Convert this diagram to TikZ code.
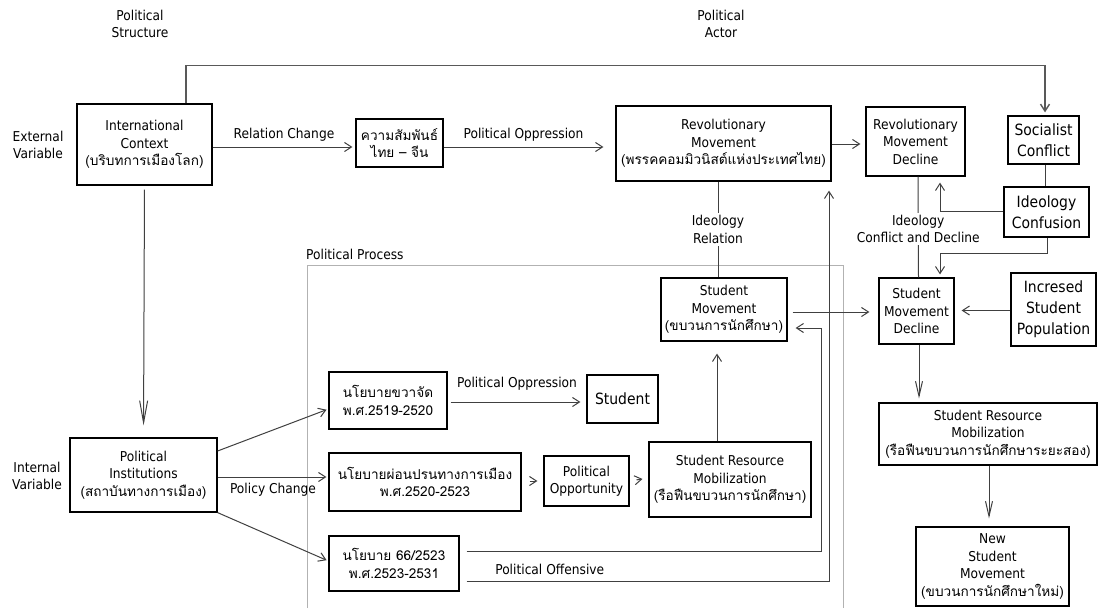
\documentclass[tikz,border=0pt]{standalone}
\usepackage{fontspec}
\setmainfont{DejaVu Sans}[FakeStretch=0.9]
\newfontfamily\thai[Script=Thai]{Loma}
\usetikzlibrary{arrows.meta}

\begin{document}
\begin{tikzpicture}[x=1pt,y=-1pt,>={Straight Barb[length=7pt,width=9pt]},
    box/.style={draw=black,line width=1.2pt,inner sep=0pt,align=center,font=\fontsize{13.6}{17.5}\selectfont},
    big/.style={font=\fontsize{15.5}{21}\selectfont},
    lbl/.style={align=center,inner sep=2pt,font=\fontsize{13.6}{17.5}\selectfont},
    link/.style={draw=black!75,line width=1pt},
    longtip/.style={>={Straight Barb[length=15pt,width=7pt]}}]

    \fill[white] (0,0) rectangle (1098,608);
    \useasboundingbox (0,0) rectangle (1098,608);

    % headings
    \node[lbl] (pstr) at (140,24) {Political\\Structure};
    \node[lbl] (pact) at (721,24) {Political\\Actor};
    \node[lbl] (ext) at (38,145) {External\\Variable};
    \node[lbl] (int) at (37,476) {Internal\\Variable};
    \node[lbl,anchor=west,inner sep=0pt] (pproc) at (306,254) {Political Process};
    \draw[black!30,line width=0.8pt] (307,608) |- (843,265) -- (843,608);

    % external level
    \node[box,minimum width=135pt,minimum height=81pt] (ic) at (144.5,144.5) {International\\Context\\{\thai(บริบทการเมืองโลก)}};
    \node[box,minimum width=87pt,minimum height=48pt] (thcn) at (399.5,143) {{\thai ความสัมพันธ์}\\{\thai ไทย – จีน}};
    \node[box,minimum width=215pt,minimum height=75pt] (rm) at (723.5,143.5) {Revolutionary\\Movement\\{\thai(พรรคคอมมิวนิสต์แห่งประเทศไทย)}};
    \node[box,minimum width=99pt,minimum height=69pt] (rmd) at (915.5,141.5) {Revolutionary\\Movement\\Decline};
    \node[box,big,minimum width=71pt,minimum height=48pt] (sc) at (1043.5,140) {Socialist\\Conflict};
    \node[box,big,minimum width=85pt,minimum height=50pt] (idc) at (1046.5,212) {Ideology\\Confusion};

    % student level
    \node[box,minimum width=126pt,minimum height=63pt] (sm) at (724,309.5) {Student\\Movement\\{\thai(ขบวนการนักศึกษา)}};
    \node[box,minimum width=75pt,minimum height=66pt] (smd) at (916.5,311) {Student\\Movement\\Decline};
    \node[box,big,minimum width=85pt,minimum height=73pt] (isp) at (1053.5,309.5) {Incresed\\Student\\Population};
    \node[box,minimum width=218pt,minimum height=62pt] (srm2) at (988,434) {Student Resource\\Mobilization\\{\thai(รือฟืนขบวนการนักศึกษาระยะสอง)}};
    \node[box,minimum width=153pt,minimum height=79pt] (nsm) at (992.5,566.5) {New\\Student\\Movement\\{\thai(ขบวนการนักศึกษาใหม่)}};

    % internal level
    \node[box,minimum width=147pt,minimum height=74pt] (pi) at (143.5,475) {Political\\Institutions\\{\thai(สถาบันทางการเมือง)}};
    \node[box,minimum width=118pt,minimum height=57pt] (nk) at (388,400.5) {{\thai นโยบายขวาจัด}\\{\thai พ.ศ.2519-2520}};
    \node[box,minimum width=192pt,minimum height=58pt] (np) at (425,482) {{\thai นโยบายผ่อนปรนทางการเมือง}\\{\thai พ.ศ.2520-2523}};
    \node[box,minimum width=130pt,minimum height=55pt] (n66) at (394,563.5) {{\thai นโยบาย 66/2523}\\{\thai พ.ศ.2523-2531}};
    \node[box,big,minimum width=71pt,minimum height=48pt] (st) at (622.5,399) {Student};
    \node[box,minimum width=85pt,minimum height=50pt] (po) at (586.5,481) {Political\\Opportunity};
    \node[box,minimum width=162pt,minimum height=75pt] (srm) at (730,479.5) {Student Resource\\Mobilization\\{\thai(รือฟืนขบวนการนักศึกษา)}};

    % connectors, top half
    \draw[link,draw=black!65,line width=1.4pt,->,shorten >=3pt] ([xshift=41.5pt]ic.north) -- ++(0,-38) -| ([xshift=1.5pt]sc.north);
    \draw[link,->,shorten >=3pt] ([yshift=-2.5pt]ic.east) -- node[lbl,above,yshift=3pt]{Relation Change} ([yshift=-4pt]thcn.west);
    \draw[link,->,shorten >=12pt] ([yshift=-4pt]thcn.east) -- node[lbl,above,xshift=-6pt,yshift=3pt]{Political Oppression} ([yshift=-3.5pt]rm.west);
    \draw[link,->,shorten >=5pt] ([yshift=-0.5pt]rm.east) -- ([yshift=-2.5pt]rmd.west);
    \draw[link] ([xshift=-5.5pt]rm.south) -- node[lbl,fill=white]{Ideology\\Relation} ([xshift=-6pt]sm.north);
    \draw[link] ([xshift=2.5pt]rmd.south) -- node[lbl,fill=white,yshift=-2pt]{Ideology\\Conflict and Decline} ([xshift=2pt]smd.north);
    \draw[link] ([xshift=1.5pt]sc.south) -- ([xshift=1.5pt]sc.south |- idc.north);
    \draw[link,->,shorten >=6pt] ([yshift=1pt]idc.west) -| ([xshift=24.5pt]rmd.south);
    \draw[link,->,shorten >=3pt] ([xshift=0.5pt]idc.south) -- ++(0,16) -| ([xshift=23.5pt]smd.north);
    \draw[link,->,shorten <=5pt,shorten >=9pt] ([yshift=-2.5pt]sm.east) -- ([yshift=-1pt]smd.west);
    \draw[link,->,shorten >=7pt] ([yshift=-1pt]isp.west) -- ([yshift=-1pt]isp.west -| smd.east);
    \draw[link,->,longtip,shorten >=4pt] ([xshift=2.5pt]smd.south) -- ([xshift=2.5pt]smd.south |- srm2.north);
    \draw[link,->,longtip,shorten >=8pt] ([xshift=1pt]srm2.south) -- ([xshift=1pt]srm2.south |- nsm.north);

    % connectors, bottom half
    \draw[link,->,>={Straight Barb[length=22pt,width=8pt]},shorten <=4pt,shorten >=12pt] (ic.south) -- (pi.north);
    \draw[link,->,shorten >=2pt] ([yshift=24pt]pi.east) -- ([yshift=-8.5pt]nk.west);
    \draw[link,->,shorten >=2pt] ([yshift=-2pt]pi.east) -- node[lbl,below,yshift=-4pt]{Policy Change} ([yshift=5pt]np.west);
    \draw[link,->,shorten >=2pt] (pi.south east) -- ([yshift=2.5pt]n66.west);
    \draw[link,->,shorten <=3pt,shorten >=6pt] ([yshift=-1.5pt]nk.east) -- node[lbl,above,yshift=9pt]{Political Oppression} ([yshift=-3pt]st.west);
    \draw[link,->,shorten <=8pt,shorten >=6pt] ([yshift=1pt]np.east) -- (po.west);
    \draw[link,->,shorten <=7pt,shorten >=6pt] (po.east) -- ([yshift=1.5pt]srm.west);
    \draw[link,->,shorten >=12pt] ([xshift=-13pt]srm.north) -- ([xshift=-13pt]srm.north |- sm.south);
    \draw[link,->,shorten <=7pt,shorten >=8pt] ([yshift=12.5pt]n66.east) -- ++(362,0) |- ([yshift=-18.5pt]sm.east);
    \draw[link,->,shorten <=7pt,shorten >=9pt] ([yshift=-17.5pt]n66.east) -| node[lbl,pos=0.122,above,yshift=4pt]{Political Offensive} ([xshift=105.5pt]rm.south);
\end{tikzpicture}
\end{document}
